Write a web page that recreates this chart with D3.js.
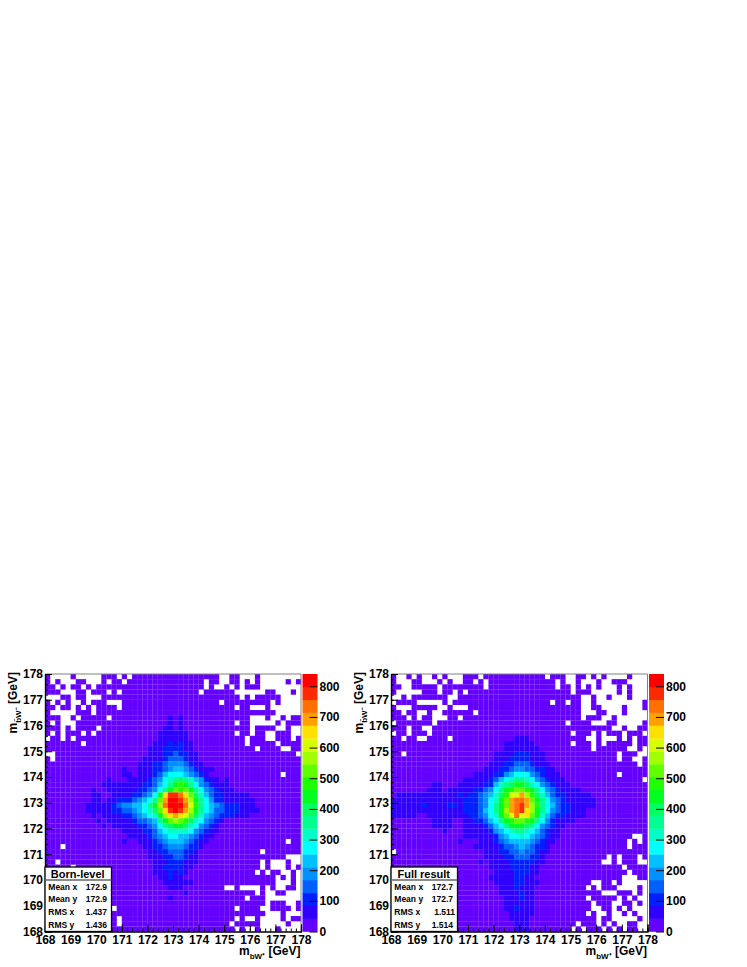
<!DOCTYPE html>
<html>
<head>
<meta charset="utf-8">
<title>m_bW mass planes</title>
<script src="https://cdn.jsdelivr.net/npm/d3@7"></script>
<style>
  body { margin: 0; background: #fff; }
  text { font-family: "Liberation Sans", Arial, sans-serif; font-weight: bold; fill: #000; }
</style>
</head>
<body>
<svg id="chart" width="747" height="967"></svg>
<script>
// colour bar bands, lowest count first
const palette = ["#6400ff","#3000ff","#0020ff","#0060ff","#0090ff","#00c0ff","#00ffff","#00ffc8","#00ff90","#00ff60",
                 "#00ff20","#20ff00","#60ff00","#a0ff00","#d8ff00","#ffe000","#ffa000","#ff7000","#ff2a00","#ff0000"];
const levelCodes = "0123456789abcdefghij";
const maxCount = 840;
const barTicks = [0, 100, 200, 300, 400, 500, 600, 700, 800];
const massTicks = [168, 169, 170, 171, 172, 173, 174, 175, 176, 177, 178];

// palette level of every bin, rows run from 178 down, columns from 168 up.
// bins outside these blocks sit in the lowest band
const bornFirstRow = 8, bornFirstCol = 8;
const bornLevels = [
  "00 0000000000 0000101000 0000000000 00",
  "00 0000000000 0000101000 0000000000 00",
  "00 0000000000 0001101000 0000000000 00",
  "00 0000000000 0011111100 0000000000 00",
  "00 0000000000 0011111100 0000000000 00",
  "00 0000000000 0111212110 0000000000 00",
  "00 0000000000 1112222110 0000000000 00",
  "00 0000000000 1112232211 0000000000 00",
  "00 0000000001 1112333211 0000000000 00",
  "00 0000000011 1223444321 1000000000 00",
  "00 0000010011 1223455432 1110000000 00",
  "00 0000011011 1235666543 2100000000 00",
  "00 0010001111 2346789875 4211010000 00",
  "00 0111111112 23568aba86 4321110000 00",
  "01 0011111122 3468acbca8 6432111000 00",
  "01 1001111223 46afiihfc9 7532211111 00",
  "01 1011222345 68cgjjigda 8642211111 10",
  "11 1112344556 8adhjjjheb 8654322211 10",
  "11 1112233456 79cfijigda 8653322211 11",
  "01 0111122345 67adfgfec9 7543222111 00",
  "00 1011111233 458acdcb97 6432100000 00",
  "00 0101111122 34689aa976 4321000000 00",
  "00 0000011112 2356777764 3211000000 00",
  "00 0000001111 2345665543 2110000000 00",
  "00 0000010011 1234555432 1100000000 00",
  "00 0000000001 1223444322 1000000000 00",
  "00 0000000000 1122333221 0000000000 00",
  "00 0000000000 1112233211 0000000000 00",
  "00 0000000000 0111222111 0000000000 00",
  "00 0000000000 0112222110 0000000000 00",
  "00 0000000000 0111212100 0000000000 00",
  "00 0000000000 0011211000 0000000000 00",
  "00 0000000000 0001111110 0000000000 00",
  "00 0000000000 0000111000 0000000000 00",
  "00 0000000000 0000000100 0000000000 00",
  "00 0000000000 0000100000 0000000000 00"
];

const fullFirstRow = 12, fullFirstCol = 0;
const fullLevels = [
  "0000000000 0000000000 0000111000 0000000000",
  "0000000000 0000000000 0011111100 0000000000",
  "0000000000 0000000000 0011111110 0000000000",
  "0000000000 0000000000 1111222111 0000000000",
  "0000000000 0000000000 1112222111 0000000000",
  "0000000000 0000000001 1122333211 1000000000",
  "0000000000 0000000011 1223443322 1100000000",
  "0000000000 0000001111 2245666432 1110000000",
  "0000000000 0000111112 3567887643 2111000000",
  "0000000011 0001111122 5789aa9764 3211100000",
  "0000000111 0111112234 68abccba86 4321111000",
  "0111111111 1112122345 79beegdb97 5322111110",
  "1111111111 1111222346 7acghhgca8 6432111111",
  "1111112111 1221222346 8acghigdb8 6532211111",
  "1111111111 1111222356 8adghifda8 6432211100",
  "1111100111 1111122346 7acehefca7 5322111100",
  "0000000011 1100112235 68abccba86 4211110000",
  "0000000011 1100111123 568aaa9864 3211000000",
  "0000000000 1000111112 4567887653 2110000000",
  "0000000000 0000111111 2456676543 2110000000",
  "0000000000 0001000111 2345555432 1100000000",
  "0000000000 0000001111 1233454322 1000000000",
  "0000000000 0000000011 1223343321 1000000000",
  "0000000000 0000000011 1122333221 0000000000",
  "0000000000 0000000101 1112222211 0000000000",
  "0000000000 0000000001 1112222110 0000000000",
  "0000000000 0000000000 1111222110 0000000000",
  "0000000000 0000000001 1111221100 0000000000",
  "0000000000 0000000000 1111221110 0000000000",
  "0000000000 0000000000 0111211100 0000000000",
  "0000000000 0000000000 0111121100 0000000000",
  "0000000000 0000000000 0011121100 0000000000",
  "0000000000 0000000000 0011111100 0000000000",
  "0000000000 0000000000 0011211100 0000000000",
  "0000000000 0000000000 0001111100 0000000000",
  "0000000000 0000000000 0001111000 0000000000",
  "0000000000 0000000000 0000111000 0000000000",
  "0000000000 0000000000 0000111000 0000000000"
];

// empty bins: [row, col, col, ...]
const bornEmpty = [
  [0,1,2,3,4,6,7,8,9,10,14,16,34,35,38,39,40,42,43,44,45,46,47,48,49],
  [1,1,3,4,5,8,9,10,12,15,31,34,35,38,40,42,43,44,45,46,48],
  [2,2,4,7,9,31,33,34,36,38,42,43,44,45,46,47,48,49],
  [3,3,4,5,8,12,14,30,37,38,39,40,41,42,45,46,47,49],
  [4,0,1,2,5,8,9,10,38,40,46,47,48,49],
  [5,1,3,5,6,8,12,13,14,34,44,46,47,48,49],
  [6,2,5,7,9,14,37,40,41,42,44,45,46,47,48,49],
  [7,1,2,3,4,5,9,45,46,47,48,49],
  [8,3,4,6,12,40,41,42,44,45,47],
  [9,1,3,4,5,37,40,41,42,43,44,46],
  [10,3,5,10,40,45,46,48,49],
  [11,1,3,7,9,37,40,43,44,48,49],
  [12,0,3,5,39,43,44,48],
  [13,7,39,45],
  [14,41,46,47],
  [15,0,1,49],
  [16,1],
  [19,46],
  [32,47],
  [33,3],
  [34,42],
  [35,47,48,49],
  [36,2,42,44,45,46,48,49],
  [37,5,42,44,45,46,48],
  [38,41,43,46,47,49],
  [39,45,47,49],
  [40,45,46,47,49],
  [41,35,36,38,39,40,41,43,45,46,49],
  [42,41,43,44,47,48,49],
  [43,39,43,44,45,46,47,48,49],
  [44,43,47,48],
  [45,13,37,42,43,48],
  [46,43,44,45,47,48,49],
  [47,14,37,39,40,42,43,44,45,47],
  [48,14,36,42,43,44,45,46,48,49],
  [49,37,39,40,42,43,44,46,47,48,49]
];

const fullEmpty = [
  [0,1,2,4,6,7,9,11,12,13,17,30,34,35,38,40,42,43,44,45,47,48,49],
  [1,1,2,3,6,7,8,10,12,13,16,18,32,34,35,37,38,39,41,42,46,47,48,49],
  [2,2,3,9,18,32,35,37,39,41,42,43,45,47,48,49],
  [3,1,2,3,4,5,9,12,14,35,39,40,41,42,43,45,47,48,49],
  [4,0,1,3,11,12,37,38,40,41,43,44,45,47,48,49],
  [5,0,5,6,7,8,9,11,31,34,37,38,40,41,42,43,44,45,46,47,48],
  [6,1,2,3,9,10,12,13,14,37,38,41,42,43,44,46,47,48],
  [7,2,5,6,8,9,16,37,38,39,42,43,44,46,47,48,49],
  [8,3,5,8,9,10,13,37,41,42,44,45,46,47,48,49],
  [9,0,8,34,39,40,41,44,45,46,47,48],
  [10,3,6,7,43,44,46,47],
  [11,0,3,7,35,39,41,45,49],
  [12,2,5,6,11,38,39,41,42,43,45,47],
  [13,35,39,41,47],
  [14,39,46,47,49],
  [15,2,44,48,49],
  [16,44,47,48],
  [17,48],
  [19,44],
  [20,49],
  [31,47,48],
  [32,46,48],
  [33,46],
  [34,0],
  [35,42,44,48],
  [36,41,42,44,48,49],
  [37,45],
  [38,46],
  [39,45,46,47],
  [40,39,40,43,45,46,47,48,49],
  [41,38,40,44,45,46,47,49],
  [42,41,42,43,47,49],
  [43,38,44,46,48,49],
  [44,39,43,44,47,49],
  [45,39,40,43,45,47,48,49],
  [46,38,40,41,43,44,46,48,49],
  [47,40,43,44,45,46,47,49],
  [48,36,40,42,44,45,48,49],
  [49,35,37,41,43,45,48,49]
];

const bornStats = [["Mean x", "172.9"], ["Mean y", "172.9"], ["RMS x", "1.437"], ["RMS y", "1.436"]];
const fullStats = [["Mean x", "172.7"], ["Mean y", "172.7"], ["RMS x", "1.511"], ["RMS y", "1.514"]];

const binCount = 50;
const plotTop = 674;
const plotBottom = 931.5;

const svg = d3.select("#chart");
const colorScale = d3.scaleQuantize().domain([0, maxCount]).range(palette);

// turn the level blocks and empty lists into one count per bin
function buildBins(levels, firstRow, firstCol, empty) {
  const step = maxCount / palette.length;
  const rows = levels.map(function (row) { return row.replace(/ /g, ""); });
  const emptyKeys = new Set();
  empty.forEach(function (entry) {
    entry.slice(1).forEach(function (col) { emptyKeys.add(entry[0] + "_" + col); });
  });
  const bins = [];
  d3.range(binCount).forEach(function (row) {
    d3.range(binCount).forEach(function (col) {
      if (emptyKeys.has(row + "_" + col)) return;
      const rowText = rows[row - firstRow] || "";
      const code = rowText.charAt(col - firstCol);
      const level = code ? levelCodes.indexOf(code) : 0;
      bins.push({ row: row, col: col, count: (level + 0.5) * step });
    });
  });
  return bins;
}

function drawPanel(opts) {
  const xScale = d3.scaleLinear().domain([168, 178]).range([opts.left, opts.right]);
  const yScale = d3.scaleLinear().domain([168, 178]).range([plotBottom, plotTop]);
  const binWidth = 10 / binCount;

  // heat cells, a hair wider than the bin so the seams stay faint
  svg.append("g").selectAll("rect")
    .data(buildBins(opts.levels, opts.firstRow, opts.firstCol, opts.empty))
    .enter().append("rect")
    .attr("x", function (d) { return xScale(168 + d.col * binWidth); })
    .attr("y", function (d) { return yScale(178 - d.row * binWidth); })
    .attr("width", xScale(168 + binWidth) - xScale(168) + 0.12)
    .attr("height", yScale(168) - yScale(168 + binWidth) + 0.12)
    .attr("fill", function (d) { return colorScale(d.count); });

  // grey frame on the open sides
  svg.append("path")
    .attr("d", "M" + opts.left + "," + plotTop + "H" + opts.right + "V" + plotBottom)
    .attr("fill", "none").attr("stroke", "#808080").attr("stroke-width", 1);

  // minor ticks first, major ones and their labels on top
  const minorTicks = d3.range(168, 178.01, binWidth);
  const xMinor = d3.axisBottom(xScale).tickValues(minorTicks).tickSize(-3).tickFormat("");
  const yMinor = d3.axisLeft(yScale).tickValues(minorTicks).tickSize(-3).tickFormat("");
  const xMajor = d3.axisBottom(xScale).tickValues(massTicks).tickSize(-7).tickPadding(4).tickFormat(d3.format("d"));
  const yMajor = d3.axisLeft(yScale).tickValues(massTicks).tickSize(-7).tickPadding(2).tickFormat(d3.format("d"));

  [xMinor, xMajor].forEach(function (axis) {
    svg.append("g").attr("class", "axis").attr("transform", "translate(0," + plotBottom + ")").call(axis);
  });
  [yMinor, yMajor].forEach(function (axis) {
    svg.append("g").attr("class", "axis").attr("transform", "translate(" + opts.left + ",0)").call(axis);
  });
  svg.selectAll(".axis text").attr("font-size", 12);
  svg.selectAll(".axis").attr("font-family", null);
  svg.selectAll(".axis .domain").attr("stroke", "#000").attr("stroke-width", 1.2);

  // axis titles
  const xTitle = svg.append("text")
    .attr("x", opts.right - 0.5).attr("y", 954.5).attr("text-anchor", "end").attr("font-size", 12);
  xTitle.append("tspan").text("m");
  xTitle.append("tspan").attr("font-size", 8).attr("dy", 4).text("bW\u207A");
  xTitle.append("tspan").attr("dy", -4).text(" [GeV]");

  const yTitle = svg.append("text")
    .attr("transform", "translate(" + (opts.left - 28) + "," + (plotTop - 2) + ") rotate(-90)")
    .attr("text-anchor", "end").attr("font-size", 12);
  yTitle.append("tspan").text("m");
  yTitle.append("tspan").attr("font-size", 8).attr("dy", 4).text("b\u0304W\u207B");
  yTitle.append("tspan").attr("dy", -4).text(" [GeV]");

  // colour bar
  const barScale = d3.scaleLinear().domain([0, maxCount]).range([plotBottom, plotTop]);
  const bandSize = maxCount / palette.length;
  svg.append("g").selectAll("rect")
    .data(palette)
    .enter().append("rect")
    .attr("x", opts.right + 1.5)
    .attr("y", function (d, i) { return barScale((i + 1) * bandSize); })
    .attr("width", 15)
    .attr("height", barScale(0) - barScale(bandSize) + 0.3)
    .attr("fill", function (d) { return d; });

  const barAxis = d3.axisRight(barScale).tickValues(barTicks).tickSize(-8).tickPadding(2);
  const barGroup = svg.append("g")
    .attr("transform", "translate(" + (opts.right + 16.5) + ",0)")
    .call(barAxis);
  barGroup.select(".domain").remove();
  barGroup.attr("font-family", null);
  barGroup.selectAll("text").attr("font-size", 12);

  // stats box
  const boxLeft = opts.left;
  const boxWidth = 66.5;
  const legend = svg.append("g");
  legend.append("rect")
    .attr("x", boxLeft).attr("y", 867).attr("width", boxWidth).attr("height", plotBottom - 867)
    .attr("fill", "#fff").attr("stroke", "#000").attr("stroke-width", 1.3);
  legend.append("line")
    .attr("x1", boxLeft).attr("x2", boxLeft + boxWidth).attr("y1", 880).attr("y2", 880)
    .attr("stroke", "#666").attr("stroke-width", 1.3);
  legend.append("text")
    .attr("x", boxLeft + boxWidth / 2 - 0.5).attr("y", 878)
    .attr("text-anchor", "middle").attr("font-size", 11).text(opts.title);

  const statBaselines = [890, 902, 915, 927.5];
  opts.stats.forEach(function (stat, i) {
    legend.append("text").attr("x", boxLeft + 3.3).attr("y", statBaselines[i])
      .attr("font-size", 8.5).text(stat[0]);
    legend.append("text").attr("x", boxLeft + opts.statRight[i]).attr("y", statBaselines[i])
      .attr("text-anchor", "end").attr("font-size", 8.5).text(stat[1]);
  });
}

drawPanel({
  left: 45, right: 301, title: "Born-level", stats: bornStats,
  levels: bornLevels, firstRow: bornFirstRow, firstCol: bornFirstCol, empty: bornEmpty,
  statRight: [62, 62, 62, 62]
});

drawPanel({
  left: 391, right: 647.5, title: "Full result", stats: fullStats,
  levels: fullLevels, firstRow: fullFirstRow, firstCol: fullFirstCol, empty: fullEmpty,
  statRight: [62, 62, 64, 62]
});
</script>
</body>
</html>
